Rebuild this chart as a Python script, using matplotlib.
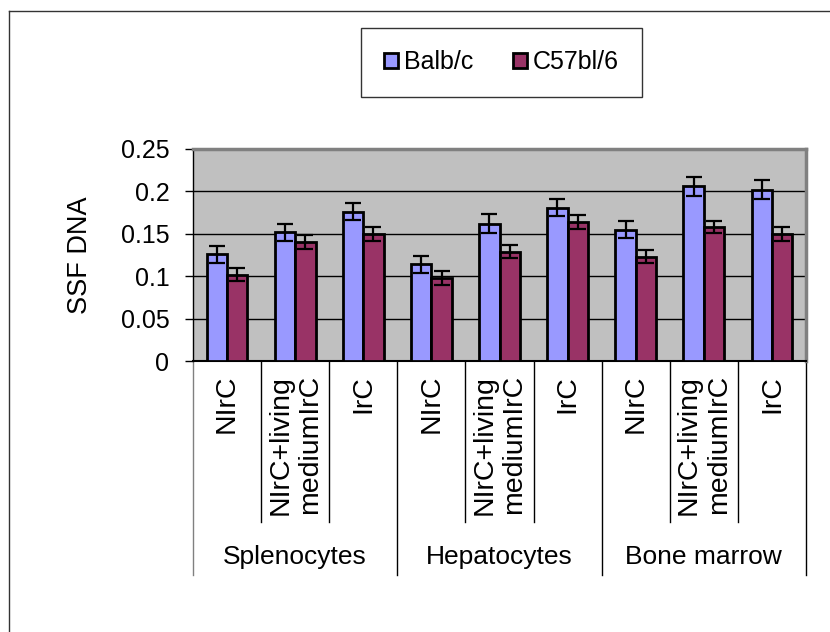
import matplotlib
matplotlib.use("Agg")
import matplotlib.pyplot as plt
from matplotlib.lines import Line2D
from matplotlib.patches import Patch
import numpy as np

plt.rcParams['font.family'] = ['Liberation Sans', 'DejaVu Sans']

groups = ['Splenocytes', 'Hepatocytes', 'Bone marrow']
conditions = ['NIrC', 'NIrC+living\nmediumIrC', 'IrC']
series = ['Balb/c', 'C57bl/6']

balb = [0.126, 0.152, 0.176, 0.114, 0.162, 0.181, 0.155, 0.206, 0.202]
balb_err = [0.010, 0.010, 0.010, 0.010, 0.011, 0.010, 0.010, 0.011, 0.011]
c57 = [0.102, 0.140, 0.150, 0.098, 0.129, 0.164, 0.123, 0.158, 0.150]
c57_err = [0.008, 0.008, 0.008, 0.008, 0.008, 0.008, 0.008, 0.007, 0.008]

yticks = [0, 0.05, 0.1, 0.15, 0.2, 0.25]
ytick_labels = ['0', '0.05', '0.1', '0.15', '0.2', '0.25']

W, H = 830, 632
fig = plt.figure(figsize=(W / 100, H / 100), dpi=100)
ax = fig.add_axes([193 / W, 1 - 361 / H, 613 / W, 212 / H])
ax.set_facecolor('#C0C0C0')

x = np.arange(len(balb))
bw = 0.3
ekw = dict(ecolor='black', elinewidth=1.6, capsize=5.5, capthick=1.6, zorder=4)
ax.bar(x - bw / 2, balb, bw, color='#9999FF', edgecolor='black', linewidth=2, zorder=3)
ax.bar(x + bw / 2, c57, bw, color='#993366', edgecolor='black', linewidth=2, zorder=3)
ax.errorbar(x - bw / 2, balb, yerr=balb_err, fmt='none', **ekw)
ax.errorbar(x + bw / 2, c57, yerr=c57_err, fmt='none', **ekw)

ax.set_xlim(-0.5, len(balb) - 0.5)
ax.set_ylim(0, 0.25)
ax.set_yticks(yticks)
ax.set_yticklabels(ytick_labels, fontsize=18)
ax.tick_params(axis='y', direction='out', length=6, width=1, pad=11)
ax.set_xticks([])
ax.yaxis.grid(True, color='black', linewidth=1)
ax.set_axisbelow(True)
ax.set_ylabel('SSF DNA', fontsize=19.5, labelpad=20)

for s in ['top', 'right']:
    ax.spines[s].set_color('#808080')
    ax.spines[s].set_linewidth(2.5)
ax.spines['left'].set_linewidth(1)
ax.spines['bottom'].set_linewidth(1.5)

# category axis table
tr = ax.get_xaxis_transform()
for i in range(len(balb) + 1):
    b = i - 0.5
    major = i % 3 == 0
    y_end = -1.01 if major else -0.76
    col = '#808080' if i == 0 else 'black'
    ax.plot([b, b], [0, y_end], color=col, linewidth=1, transform=tr, clip_on=False)

for i in range(len(balb)):
    ax.text(i, -0.065, conditions[i % 3], rotation=90, ha='center', va='top',
            multialignment='right', fontsize=20.5, linespacing=1.2,
            transform=tr)
for g, name in enumerate(groups):
    ax.text(g * 3 + 1, -0.925, name, ha='center', va='center', fontsize=19, transform=tr)

handles = [Patch(facecolor='#9999FF', edgecolor='black', linewidth=2),
           Patch(facecolor='#993366', edgecolor='black', linewidth=2)]
leg = fig.legend(handles, series, loc='center', bbox_to_anchor=(501.5 / W, 1 - 62 / H),
                 ncol=2, fontsize=18, frameon=True, fancybox=False, handlelength=0.55,
                 handleheight=0.55, handletextpad=0.25, columnspacing=1.6,
                 borderpad=0.9)
leg.get_frame().set_edgecolor('black')
leg.get_frame().set_linewidth(1)

# outer chart border (top and left)
fig.add_artist(Line2D([9 / W, 1], [1 - 11 / H, 1 - 11 / H], color='#333333', linewidth=1,
                      transform=fig.transFigure))
fig.add_artist(Line2D([9 / W, 9 / W], [0, 1 - 11 / H], color='#333333', linewidth=1,
                      transform=fig.transFigure))

fig.savefig('out.png', dpi=100)
